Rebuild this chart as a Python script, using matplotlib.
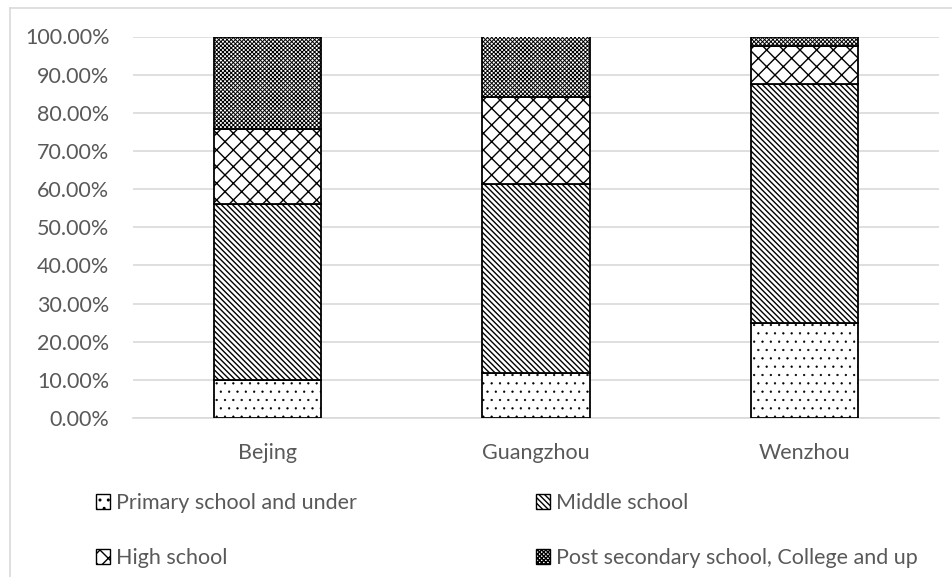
import matplotlib
matplotlib.use("Agg")
import matplotlib.pyplot as plt
from matplotlib.patches import Rectangle
from matplotlib.lines import Line2D
from matplotlib.ticker import FuncFormatter
import numpy as np

cities = ["Bejing", "Guangzhou", "Wenzhou"]
levels = ["Primary school and under", "Middle school", "High school",
          "Post secondary school, College and up"]
# share of each level, per city (percent)
primary = [10.0, 11.7, 24.8]
middle = [46.0, 49.6, 62.7]
high = [19.7, 22.8, 10.0]
post = [24.3, 15.9, 2.5]

hatches = ["..", "\\" * 6, "xx", "x" * 8]
hatch_lw = [0.4, 1.0, 1.0, 0.7]
grey = "#595959"

plt.rcParams["font.family"] = ["Lato", "DejaVu Sans"]
plt.rcParams["hatch.linewidth"] = 1.0
plt.rcParams["hatch.color"] = "black"

fig = plt.figure(figsize=(9.53, 5.77), dpi=100, facecolor="white")
ax = fig.add_axes([133 / 953, 1 - 418 / 577, 806 / 953, 381.5 / 577])

x = np.arange(len(cities))
bottom = np.zeros(len(cities))
handles = []
for name, vals, h, hlw in zip(levels, [primary, middle, high, post], hatches, hatch_lw):
    bars = ax.bar(x, vals, width=0.40, bottom=bottom, facecolor="white",
                  edgecolor="black", linewidth=1.3, hatch=h, zorder=3)
    for b in bars:
        b.set_hatch_linewidth(hlw)
    hd = Rectangle((0, 0), 1, 1, facecolor="white",
                   edgecolor="black", linewidth=1.0, hatch=h)
    hd.set_hatch_linewidth(hlw)
    handles.append(hd)
    bottom += np.array(vals)

ax.set_xlim(-0.5, 2.5)
ax.set_ylim(0, 100)
ax.set_yticks(np.arange(0, 101, 10))
ax.yaxis.set_major_formatter(FuncFormatter(lambda v, p: "%.2f%%" % v))
ax.set_xticks(x)
ax.set_xticklabels(cities)
ax.tick_params(axis="both", length=0, labelsize=15.5, labelcolor=grey)
ax.tick_params(axis="y", pad=17)
ax.tick_params(axis="x", pad=18)
ax.grid(axis="y", color="#d9d9d9", linewidth=1.2, zorder=0)
for s in ["top", "right", "left"]:
    ax.spines[s].set_visible(False)
ax.spines["bottom"].set_color("#d9d9d9")
ax.spines["bottom"].set_linewidth(1.2)

# legend: two rows, two columns (column-major order)
order = [0, 2, 1, 3]
leg = fig.legend([handles[i] for i in order], [levels[i] for i in order],
                 ncol=2, loc="upper left", bbox_to_anchor=(96 / 953, 1 - 493 / 577),
                 frameon=False, fontsize=15.5, handlelength=0.65,
                 handleheight=0.65, handletextpad=0.28, columnspacing=8.3,
                 labelspacing=1.63, borderpad=0, borderaxespad=0)
for t in leg.get_texts():
    t.set_color(grey)

# chart area border
fig.add_artist(Line2D([10 / 953, 10 / 953], [0, 1 - 8 / 577],
                      transform=fig.transFigure, color="#d9d9d9", linewidth=1.2))
fig.add_artist(Line2D([10 / 953, 1], [1 - 8 / 577, 1 - 8 / 577],
                      transform=fig.transFigure, color="#d9d9d9", linewidth=1.2))

fig.savefig("out.png", dpi=100)
